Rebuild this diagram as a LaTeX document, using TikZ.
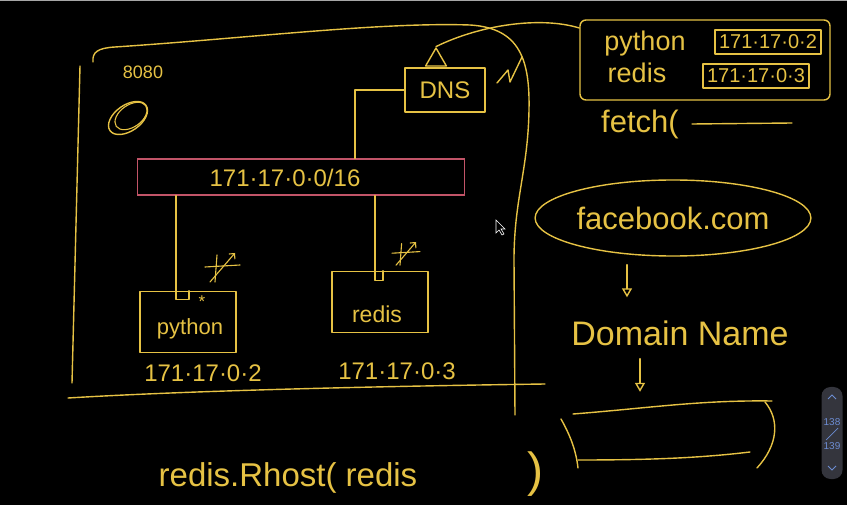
\documentclass[tikz,border=0pt]{standalone}
\usepackage{fontspec}
\setmainfont{Liberation Sans}
\usepackage{xcolor}
\definecolor{chalk}      {HTML}{E6C244}
\definecolor{netPink}    {HTML}{C25468}
\definecolor{scrollBack} {HTML}{34353D}
\definecolor{scrollInk}  {HTML}{6C8CD2}
\usetikzlibrary{arrows.meta, positioning, calc, shapes.geometric}
\tikzset{
    sketch/.style={draw=chalk, line width=1.4pt, line cap=round, line join=round},
    hand/.style={text=chalk, inner sep=1pt, font=\fontsize{24}{28}\selectfont},
    bighand/.style={hand, font=\fontsize{31}{36}\selectfont},
    midhand/.style={hand, font=\fontsize{27}{32}\selectfont},
    smallhand/.style={hand, font=\fontsize{20}{24}\selectfont},
    container/.style={sketch, minimum width=96pt, minimum height=61pt, inner sep=0pt},
    netbar/.style={draw=netPink, line width=1.3pt, minimum width=327pt, minimum height=36pt},
    dnsbox/.style={sketch, hand, minimum width=80pt, minimum height=44pt},
    ipbox/.style={sketch, smallhand, line width=1.2pt, minimum width=106pt, minimum height=24pt},
    flow/.style={sketch, -{Triangle[open, length=9pt, width=10pt]}},
    scrollnum/.style={text=scrollInk, inner sep=0pt, font=\fontsize{10}{12}\selectfont},
    spark/.pic={
        \draw[sketch, line width=1.1pt] (-3,-13) -- (-5,14);
        \draw[sketch, line width=1.1pt] (-15,-1) -- (20,-3);
        \draw[sketch, line width=1.1pt, -{Straight Barb[length=4pt]}] (-10,14) -- (15,-15);
    },
}
\begin{document}
\begin{tikzpicture}[x=1pt, y=-1pt]
    \useasboundingbox[fill=black] (0,0) rectangle (847,505);
    \draw[gray!70, line width=1.5pt] (0,0.75) -- (847,0.75);
    % host machine outline
    \draw[sketch] (93,62) .. controls (92,52) and (98,48) .. (115,47)
        .. controls (250,38) and (380,22) .. (470,25)
        .. controls (520,28) and (530,60) .. (529,110)
        .. controls (528,170) and (514,200) .. (514,260) -- (515,415);
    \draw[sketch] (80,66) -- (72,383);
    \draw[sketch] (68,398) .. controls (200,390) and (400,386) .. (545,384);
    % port scribble and its ring
    \node[smallhand, font=\fontsize{18}{20}\selectfont] (port) at (143,72) {8080};
    \draw[sketch, rotate around={35:(128,118)}] (128,118) ellipse [x radius=22, y radius=13];
    \draw[sketch, line width=1.1pt, rotate around={35:(131,116)}] (131,116) ellipse [x radius=18, y radius=11];
    % DNS server
    \node[dnsbox] (dns) at (445,90) {DNS};
    \node[sketch, regular polygon, regular polygon sides=3, minimum size=24pt, inner sep=0pt] (tri) at (436,60) {};
    \draw[sketch] (497,83) -- (508,70) -- (510,82) -- (522,57);
    % docker network
    \node[netbar] (net) at (301,177) {};
    \node[hand] (netlabel) at (285,178) {171·17·0·0/16};
    \draw[sketch] (dns.west) -| ($(net.north west)!0.664!(net.north east)$);
    % containers
    \node[container] (py) at (188,322) {};
    \node[hand, font=\fontsize{22}{26}\selectfont] (pyname) at (190,329) {python};
    \node[hand, inner sep=0pt, font=\fontsize{17}{18}\selectfont] (pystar) at (202,302) {*};
    \node[hand, below=10pt of py, xshift=15pt] (pyip) {171·17·0·2};
    \node[container] (rd) at (380,302) {};
    \node[hand, font=\fontsize{23}{26}\selectfont] (rdname) at (377,314) {redis};
    \node[hand, below=28pt of rd, xshift=17pt] (rdip) {171·17·0·3};
    \coordinate (pyport) at (py.north -| 176,0);
    \coordinate (rdport) at (rd.north -| 375,0);
    \draw[sketch] (pyport |- net.south) -- (pyport) -- ++(0,9) -| ++(13,-9);
    \draw[sketch] (rdport |- net.south) -- (rdport) -- ++(0,10) -| ++(8,-10);
    \pic at (220,268) {spark};
    \pic[scale=0.8] at (404,254) {spark};
    % DNS table
    \node[sketch, rounded corners=6pt, minimum width=250pt, minimum height=80pt] (table) at (705,60) {};
    \node[midhand] (tpy) at (645,44) {python};
    \node[midhand] (trd) at (637,73) {redis};
    \node[ipbox] (tpyip) at (768,42) {171·17·0·2};
    \node[ipbox] (trdip) at (756,76) {171·17·0·3};
    \draw[sketch] (tri.north) .. controls (480,25) and (540,16) .. ([yshift=32pt]table.west);
    \node[bighand] (fetch) at (640,124) {fetch(};
    \draw[sketch] ([xshift=12pt]fetch.east) -- ++(100,-1);
    % name resolution
    \node[sketch, ellipse, minimum width=250pt, minimum height=76pt, bighand] (fb) at (673,218) {facebook.com};
    \node[hand, font=\fontsize{34}{40}\selectfont] (dom) at (680,333) {Domain Name};
    \node[minimum width=200pt, minimum height=56pt] (result) at (670,434) {};
    \draw[flow] ([xshift=-46pt, yshift=-8pt]fb.south) -- ([xshift=-53pt, yshift=22pt]dom.north);
    \draw[flow] ([xshift=-40pt, yshift=-12pt]dom.south) -- ([xshift=-30pt, yshift=14pt]result.north);
    \draw[sketch] (573,414) .. controls (650,408) and (700,400) .. (772,401);
    \draw[sketch] (578,460) .. controls (650,460) and (700,458) .. (750,452);
    \draw[sketch] (561,419) .. controls (570,435) and (576,450) .. (578,468);
    \draw[sketch] (765,402) .. controls (780,420) and (778,445) .. (757,468);
    % client call
    \node[hand, font=\fontsize{33}{38}\selectfont] (call) at (288,478) {redis.Rhost( redis};
    \node[hand, font=\fontsize{48}{52}\selectfont] (callend) at (535,474) {)};
    % mouse pointer
    \draw[white, line width=0.6pt, fill=black] (496,220) -- (496,233) -- (499,230) -- (502,235)
        -- (504,234) -- (501,229) -- (505,229) -- cycle;
    % slide scroller
    \node[fill=scrollBack, rounded corners=9pt, minimum width=21pt, minimum height=92pt] (scroll) at (832,433) {};
    \node[scrollnum] (slidenow) at (832,422) {138};
    \node[scrollnum] (slideall) at (832,446) {139};
    \draw[scrollInk, line width=0.7pt] (838,428) -- (826,440);
    \draw[scrollInk, line width=0.8pt] (828,399) -- (832,395) -- (836,399);
    \draw[scrollInk, line width=0.8pt] (828,466) -- (832,470) -- (836,466);
\end{tikzpicture}
\end{document}
